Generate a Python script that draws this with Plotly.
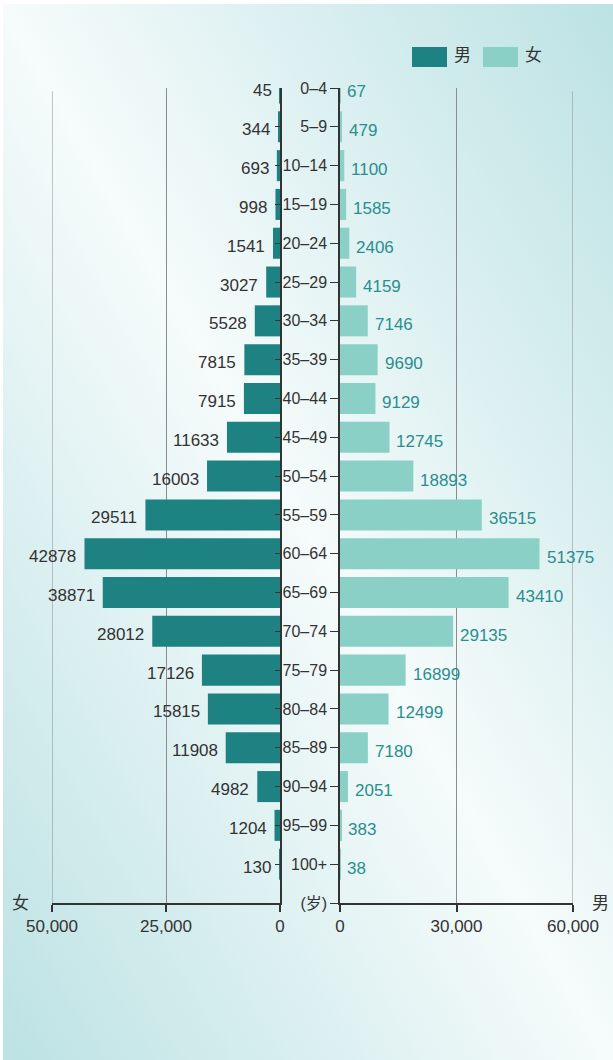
import plotly.graph_objects as go

ages = ["0–4", "5–9", "10–14", "15–19", "20–24", "25–29", "30–34", "35–39", "40–44",
        "45–49", "50–54", "55–59", "60–64", "65–69", "70–74", "75–79", "80–84", "85–89",
        "90–94", "95–99", "100+"]
male = [45, 344, 693, 998, 1541, 3027, 5528, 7815, 7915, 11633, 16003, 29511, 42878,
        38871, 28012, 17126, 15815, 11908, 4982, 1204, 130]
female = [67, 479, 1100, 1585, 2406, 4159, 7146, 9690, 9129, 12745, 18893, 36515, 51375,
          43410, 29135, 16899, 12499, 7180, 2051, 383, 38]
unit_label = "(岁)"
left_ticks = [0, 25000, 50000]
right_ticks = [0, 30000, 60000]

W, H = 613, 1060
DARK = "#1f8282"
LIGHT = "#8ad0c7"
TXT = "#333333"
TEAL_TXT = "#2a8e8e"
GRID = "#8c8c8c"
FONT = "Liberation Sans, Arial, Noto Sans CJK SC, sans-serif"

def px_x(p):
    return p / W

def px_y(p):
    return 1 - p / H

cats = ages + [unit_label]

fig = go.Figure()
fig.add_trace(go.Bar(x=male, y=ages, orientation="h", marker=dict(color=DARK, line_width=0),
                     xaxis="x", yaxis="y", name="男", showlegend=False, hoverinfo="x+y"))
fig.add_trace(go.Bar(x=female, y=ages, orientation="h", marker=dict(color=LIGHT, line_width=0),
                     xaxis="x2", yaxis="y2", name="女", showlegend=False, hoverinfo="x+y"))

annotations = []
for a, m, f in zip(ages, male, female):
    annotations.append(dict(x=m, y=a, xref="x", yref="y", text=str(m), showarrow=False,
                            xanchor="right", xshift=-6, yshift=-3,
                            font=dict(size=17, color=TXT, family=FONT)))
    annotations.append(dict(x=f, y=a, xref="x2", yref="y2", text=str(f), showarrow=False,
                            xanchor="left", xshift=5, yshift=-4,
                            font=dict(size=17, color=TEAL_TXT, family=FONT)))

# side labels
annotations.append(dict(x=px_x(20), y=px_y(903), xref="paper", yref="paper", text="女",
                        showarrow=False, xanchor="center", yanchor="middle",
                        font=dict(size=17, color=TXT, family=FONT)))
annotations.append(dict(x=px_x(600), y=px_y(903), xref="paper", yref="paper", text="男",
                        showarrow=False, xanchor="center", yanchor="middle",
                        font=dict(size=17, color=TXT, family=FONT)))
# legend labels
annotations.append(dict(x=px_x(452), y=px_y(56), xref="paper", yref="paper", text="男",
                        showarrow=False, xanchor="left", yanchor="middle",
                        font=dict(size=17, color=TXT, family=FONT)))
annotations.append(dict(x=px_x(523), y=px_y(56), xref="paper", yref="paper", text="女",
                        showarrow=False, xanchor="left", yanchor="middle",
                        font=dict(size=17, color=TXT, family=FONT)))

shapes = [
    dict(type="rect", xref="paper", yref="paper", x0=px_x(412), x1=px_x(447),
         y0=px_y(67), y1=px_y(47), fillcolor=DARK, line_width=0),
    dict(type="rect", xref="paper", yref="paper", x0=px_x(483), x1=px_x(518),
         y0=px_y(67), y1=px_y(47), fillcolor=LIGHT, line_width=0),
    # gridlines at the outer range edges (plotly skips these)
    dict(type="line", xref="x", yref="y domain", x0=left_ticks[-1], x1=left_ticks[-1],
         y0=0, y1=0.996, line=dict(color=GRID, width=1), layer="below"),
    dict(type="line", xref="x2", yref="y2 domain", x0=right_ticks[-1], x1=right_ticks[-1],
         y0=0, y1=0.996, line=dict(color=GRID, width=1), layer="below"),
]

svg = ("data:image/svg+xml;utf8,"
       "<svg xmlns='http://www.w3.org/2000/svg' width='610' height='1056' preserveAspectRatio='none' viewBox='0 0 610 1056'>"
       "<defs><linearGradient id='g' x1='0' y1='1' x2='1' y2='0'>"
       "<stop offset='0' stop-color='%23bce2e4'/>"
       "<stop offset='0.5' stop-color='%23f6fbfb'/>"
       "<stop offset='1' stop-color='%23bce2e4'/>"
       "</linearGradient></defs>"
       "<rect width='610' height='1056' fill='url(%23g)'/></svg>")

images = [dict(source=svg, xref="paper", yref="paper", x=px_x(3), y=px_y(4),
               sizex=610 / W, sizey=1056 / H, xanchor="left", yanchor="top",
               sizing="stretch", layer="below")]

ydom = [px_y(903), px_y(88)]
axis_common = dict(showline=True, linecolor=TXT, linewidth=1.5, zeroline=False)

fig.update_layout(
    width=W, height=H,
    margin=dict(l=0, r=0, t=0, b=0, autoexpand=False),
    paper_bgcolor="white", plot_bgcolor="rgba(0,0,0,0)",
    bargap=0.2,
    font=dict(family=FONT, color=TXT, size=17),
    xaxis=dict(domain=[px_x(52), px_x(280)], range=[50000, 0], anchor="y",
               tickvals=left_ticks, tickformat=",", ticks="outside", ticklen=7,
               tickcolor=TXT, tickwidth=1.5, showgrid=True, gridcolor=GRID, gridwidth=1,
               tickfont=dict(size=17, color=TXT), **axis_common),
    xaxis2=dict(domain=[px_x(340), px_x(573)], range=[0, 60000], anchor="y2",
                tickvals=right_ticks, tickformat=",", ticks="outside", ticklen=7,
                tickcolor=TXT, tickwidth=1.5, showgrid=True, gridcolor=GRID, gridwidth=1,
                tickfont=dict(size=17, color=TXT), **axis_common),
    yaxis=dict(domain=ydom, anchor="x", side="right", type="category",
               categoryorder="array", categoryarray=cats, range=[21, 0],
               ticks="inside", ticklen=5, tickcolor=TXT, tickwidth=1.2,
               showticklabels=False, showgrid=False, **axis_common),
    yaxis2=dict(domain=ydom, anchor="x2", side="left", type="category",
                categoryorder="array", categoryarray=cats, range=[21, 0],
                ticks="outside", ticklen=8, tickcolor=TXT, tickwidth=1.2,
                showticklabels=True, tickfont=dict(size=16, color=TXT),
                showgrid=False, **axis_common),
    yaxis3=dict(domain=ydom, anchor="x2", overlaying="y2", side="left", type="category",
                categoryorder="array", categoryarray=cats, range=[21, 0],
                ticks="inside", ticklen=4, tickcolor=TXT, tickwidth=1.2,
                showticklabels=False, showgrid=False, showline=False, zeroline=False),
    annotations=annotations,
    shapes=shapes,
    images=images,
)

fig.write_html("out.html", config={"displayModeBar": False},
               post_script="document.body.style.margin='0';document.body.style.overflow='hidden';")
